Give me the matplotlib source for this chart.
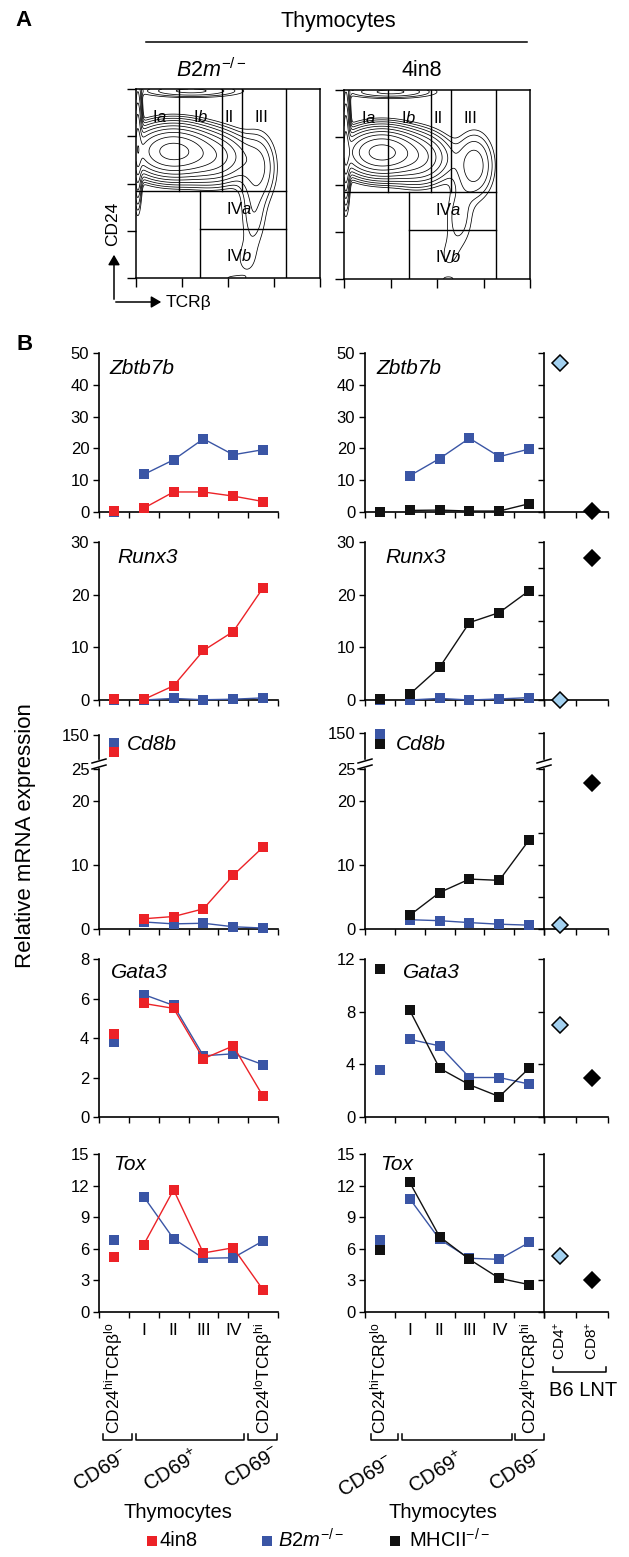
import numpy as np
import matplotlib
matplotlib.use('Agg')
import matplotlib.pyplot as plt
from matplotlib.lines import Line2D
from matplotlib.transforms import blended_transform_factory

plt.rcParams['font.family'] = ['Liberation Sans', 'DejaVu Sans']
plt.rcParams['mathtext.fontset'] = 'custom'
plt.rcParams['mathtext.rm'] = 'Liberation Sans'
plt.rcParams['mathtext.it'] = 'Liberation Sans:italic'
plt.rcParams['mathtext.bf'] = 'Liberation Sans:bold'

W, H = 629, 1557

RED = '#ec2227'
BLUE = '#3a55a5'
BLACK = '#111111'
LIGHT = '#a3d1f0'

# categories: CD24hiTCRblo, I, II, III, IV, CD24loTCRbhi
X = np.arange(6)
CAT_LABELS = [r'CD24$^{\rm hi}$TCRβ$^{\rm lo}$', 'I', 'II', 'III', 'IV',
              r'CD24$^{\rm lo}$TCRβ$^{\rm hi}$']
CAT_ROT = [90, 0, 0, 0, 0, 90]
LNT_LABELS = [r'CD4$^{+}$', r'CD8$^{+}$']
LEGEND_LABELS = ['4in8', r'$\mathit{B2m}^{\mathit{-/-}}$', r'MHCII$^{-/-}$']

# left column: 4in8 vs B2m-/-
zbtb_4in8 = [0.3, 1.2, 6.3, 6.3, 5.0, 3.3]
zbtb_b2m_l = [0.0, 11.8, 16.4, 23.0, 18.0, 19.6]
runx_4in8 = [0.1, 0.1, 2.7, 9.4, 13.0, 21.3]
runx_b2m_l = [0.0, 0.0, 0.3, 0.05, 0.15, 0.4]
cd8b_4in8 = [115, 1.6, 1.95, 3.15, 8.4, 12.8]
cd8b_b2m_l = [133, 1.1, 0.8, 0.9, 0.35, 0.15]
gata_4in8 = [4.2, 5.75, 5.5, 2.95, 3.6, 1.05]
gata_b2m_l = [3.8, 6.2, 5.65, 3.1, 3.2, 2.65]
tox_4in8 = [5.2, 6.4, 11.6, 5.6, 6.1, 2.1]
tox_b2m_l = [6.85, 10.95, 6.95, 5.1, 5.15, 6.75]

# right column: B2m-/- vs MHCII-/-
zbtb_b2m_r = [0.0, 11.4, 16.8, 23.2, 17.4, 19.8]
zbtb_mhc = [0.1, 0.5, 0.6, 0.3, 0.3, 2.6]
runx_b2m_r = [0.0, 0.0, 0.3, 0.0, 0.2, 0.45]
runx_mhc = [0.2, 1.1, 6.2, 14.7, 16.6, 20.75]
cd8b_b2m_r = [148, 1.45, 1.3, 1.0, 0.75, 0.6]
cd8b_mhc = [129, 2.15, 5.7, 7.8, 7.6, 13.9]
gata_b2m_r = [3.6, 5.9, 5.4, 3.0, 3.0, 2.5]
gata_mhc = [11.25, 8.1, 3.7, 2.45, 1.55, 3.7]
tox_b2m_r = [6.8, 10.75, 6.9, 5.1, 5.0, 6.6]
tox_mhc = [5.85, 12.3, 7.15, 5.0, 3.2, 2.6]

# B6 lymph node T cells: CD4+, CD8+
lnt_zbtb = [46.7, 0.2]
lnt_runx = [0.0, 26.9]
lnt_cd8b = [0.55, 22.8]
lnt_gata = [7.0, 3.0]
lnt_tox = [5.3, 3.0]

# contour model of the flow plots: (x, y, sx, sy, weight) in axis fractions
b2m_blobs = [(0.20, 0.67, 0.11, 0.065, 1.00), (0.42, 0.64, 0.10, 0.07, 0.22),
             (0.66, 0.58, 0.06, 0.11, 0.05), (0.64, 0.33, 0.045, 0.11, 0.022),
             (0.60, 0.10, 0.05, 0.08, 0.012), (0.30, 0.99, 0.16, 0.02, 0.05),
             (0.01, 0.72, 0.012, 0.15, 0.30), (0.52, 0.0, 0.06, 0.015, 0.01)]
fourin8_blobs = [(0.20, 0.67, 0.10, 0.06, 1.00), (0.40, 0.64, 0.09, 0.07, 0.18),
                 (0.70, 0.60, 0.06, 0.10, 0.06), (0.62, 0.33, 0.05, 0.11, 0.022),
                 (0.56, 0.12, 0.05, 0.08, 0.010), (0.25, 0.99, 0.14, 0.02, 0.05),
                 (0.01, 0.72, 0.012, 0.15, 0.30), (0.56, 0.0, 0.05, 0.015, 0.008)]

fig = plt.figure(figsize=(W / 100, H / 100), dpi=100)


def fx(x):
    return x / W


def fy(y):
    return 1 - y / H


def add_ax(x0, x1, y0, y1):
    return fig.add_axes([x0 / W, 1 - y1 / H, (x1 - x0) / W, (y1 - y0) / H])


def pline(xs, ys, lw=1.0):
    fig.add_artist(Line2D([fx(v) for v in xs], [fy(v) for v in ys],
                          transform=fig.transFigure, color='k', lw=lw))


# ---------------- panel A
def flow_panel(x0, x1, y0, y1, blobs):
    ax = add_ax(x0, x1, y0, y1)
    g = np.linspace(0, 1, 300)
    xx, yy = np.meshgrid(g, g)
    z = np.zeros_like(xx)
    for cx, cy, sx, sy, w in blobs:
        z += w * np.exp(-0.5 * (((xx - cx) / sx) ** 2 + ((yy - cy) / sy) ** 2))
    ax.contour(xx, yy, z, levels=z.max() * np.geomspace(0.01, 0.8, 10),
               colors='k', linewidths=0.55)
    ax.set_xlim(0, 1)
    ax.set_ylim(0, 1)
    q = [0, 0.25, 0.5, 0.75, 1]
    ax.set_xticks(q)
    ax.set_yticks(q)
    ax.tick_params(direction='out', length=6.5, width=1.0,
                   labelbottom=False, labelleft=False)
    for s in ax.spines.values():
        s.set_linewidth(1.1)
    kw = dict(color='k', lw=1.0)
    ax.plot([0, 0.815], [0.46, 0.46], **kw)
    for xv in [0.234, 0.467, 0.576]:
        ax.plot([xv, xv], [0.46, 1], **kw)
    ax.plot([0.815, 0.815], [0, 1], **kw)
    ax.plot([0.348, 0.348], [0, 0.46], **kw)
    ax.plot([0.348, 0.815], [0.26, 0.26], **kw)
    for txt, px, py in [(r'I$\mathit{a}$', 0.13, 0.85), (r'I$\mathit{b}$', 0.35, 0.85),
                        ('II', 0.505, 0.85), ('III', 0.68, 0.85),
                        (r'IV$\mathit{a}$', 0.56, 0.365), (r'IV$\mathit{b}$', 0.56, 0.116)]:
        ax.text(px, py, txt, ha='center', va='center', fontsize=12)
    return ax


fig.text(fx(24), fy(21), 'A', fontsize=16, fontweight='bold', ha='center', va='center')
fig.text(fx(338), fy(22), 'Thymocytes', fontsize=15.5, ha='center', va='center')
pline([146, 527], [42, 42], lw=1.1)
fig.text(fx(211), fy(70), r'$\mathit{B2m}^{\mathit{-/-}}$', fontsize=15.5, ha='center', va='center')
fig.text(fx(422), fy(70), '4in8', fontsize=15.5, ha='center', va='center')
flow_panel(136, 320, 89, 278, b2m_blobs)
flow_panel(344, 530, 90, 279, fourin8_blobs)

fig.add_artist(matplotlib.patches.FancyArrowPatch(
    (fx(114), fy(302)), (fx(114), fy(252)), transform=fig.transFigure,
    arrowstyle='-|>,head_length=6,head_width=3.5', color='k', lw=1.1))
fig.add_artist(matplotlib.patches.FancyArrowPatch(
    (fx(113), fy(302)), (fx(164), fy(302)), transform=fig.transFigure,
    arrowstyle='-|>,head_length=6,head_width=3.5', color='k', lw=1.1))
fig.text(fx(113), fy(224), 'CD24', rotation=90, fontsize=12.5, ha='center', va='center')
fig.text(fx(166), fy(302), 'TCRβ', fontsize=12.5, ha='left', va='center')

# ---------------- panel B
fig.text(fx(25), fy(345), 'B', fontsize=16, fontweight='bold', ha='center', va='center')
fig.text(fx(26), fy(836), 'Relative mRNA expression', rotation=90, fontsize=16,
         ha='center', va='center')

LX = (99, 278)
RX = (365, 544)
NX = (544, 608)


def style(ax, ylim, yticks, xlim, xticks, labels=True, bottom=True):
    ax.set_xlim(*xlim)
    ax.set_ylim(*ylim)
    ax.patch.set_alpha(0)
    ax.spines['top'].set_visible(False)
    ax.spines['right'].set_visible(False)
    ax.spines['left'].set_linewidth(1.2)
    ax.spines['bottom'].set_linewidth(1.2)
    ax.spines['bottom'].set_visible(bottom)
    ax.set_yticks(yticks)
    if bottom:
        ax.set_xticks(xticks)
        ax.set_xticklabels([])
    else:
        ax.set_xticks([])
    ax.tick_params(which='major', direction='out', length=4.5, width=1.0,
                   pad=2.5, labelsize=12, labelleft=labels)
    ax.tick_params(which='minor', length=0)


def series(ax, vals, color, z, skip_first=False):
    kw = dict(color=color, marker='s', ms=6.8, mew=0, lw=1.0, zorder=z, clip_on=False)
    ax.plot(X[1:], vals[1:], **kw)
    if not skip_first:
        ax.plot(X[:1], vals[:1], ls='none', **kw)


def lnt(ax, vals):
    ax.plot([0], vals[:1], marker='D', ms=8, mfc=LIGHT, mec='k', mew=1.1,
            ls='none', clip_on=False, zorder=5)
    ax.plot([1], vals[1:], marker='D', ms=8, mfc='k', mec='k', mew=1.1,
            ls='none', clip_on=False, zorder=5)


def gene_label(x, y, name):
    fig.text(fx(x), fy(y), name, fontsize=15, style='italic', ha='left', va='center')


TX = np.arange(-0.5, 6, 1)
NT = [-0.5, 0.5, 1.5]

rows = [
    ('Zbtb7b', 353, 512, (0, 50), np.arange(0, 51, 10), (0, 50), np.arange(0, 51, 10),
     np.arange(0, 51, 10), zbtb_4in8, zbtb_b2m_l, zbtb_b2m_r, zbtb_mhc, lnt_zbtb,
     (109, 369), (376, 368)),
    ('Runx3', 542, 700, (0, 30), np.arange(0, 31, 10), (0, 30), np.arange(0, 31, 10),
     np.arange(0, 31, 5), runx_4in8, runx_b2m_l, runx_b2m_r, runx_mhc, lnt_runx,
     (117, 557), (385, 557)),
    ('Cd8b', 769, 929, (0, 25), [0, 10, 20, 25], (0, 25), [0, 10, 20, 25],
     np.arange(0, 26, 5), cd8b_4in8, cd8b_b2m_l, cd8b_b2m_r, cd8b_mhc, lnt_cd8b,
     (127, 744), (396, 744)),
    ('Gata3', 959, 1117, (0, 8), np.arange(0, 9, 2), (0, 12), np.arange(0, 13, 4),
     np.arange(0, 13, 4), gata_4in8, gata_b2m_l, gata_b2m_r, gata_mhc, lnt_gata,
     (111, 972), (403, 972)),
    ('Tox', 1154, 1312, (0, 15), np.arange(0, 16, 3), (0, 15), np.arange(0, 16, 3),
     np.arange(0, 16, 3), tox_4in8, tox_b2m_l, tox_b2m_r, tox_mhc, lnt_tox,
     (113, 1165), (380, 1165)),
]

for (gene, top, bot, lyl, lyt, ryl, ryt, nyt, red_v, blue_l, blue_r, blk_v, lnt_v,
     lpos, rpos) in rows:
    is_cd8 = gene == 'Cd8b'
    axl = add_ax(LX[0], LX[1], top, bot)
    style(axl, lyl, lyt, (-0.5, 5.5), TX)
    series(axl, blue_l, BLUE, 3, skip_first=is_cd8)
    series(axl, red_v, RED, 4, skip_first=is_cd8)

    axr = add_ax(RX[0], RX[1], top, bot)
    style(axr, ryl, ryt, (-0.5, 5.5), TX)
    series(axr, blue_r, BLUE, 3, skip_first=is_cd8)
    series(axr, blk_v, BLACK, 4, skip_first=is_cd8)

    axn = add_ax(NX[0], NX[1], top, bot)
    style(axn, ryl, nyt, (-0.5, 1.5), NT, labels=False)
    lnt(axn, lnt_v)

    gene_label(lpos[0], lpos[1], gene)
    gene_label(rpos[0], rpos[1], gene)

    if is_cd8:
        # broken axis: upper segment holds the CD24hi TCRblo values
        ul = add_ax(LX[0], LX[1], 735, 759)
        style(ul, (100, 150), [150], (-0.5, 5.5), TX, bottom=False)
        ul.plot([0], blue_l[:1], color=BLUE, marker='s', ms=6.8, mew=0, ls='none', clip_on=False)
        ul.plot([0], red_v[:1], color=RED, marker='s', ms=6.8, mew=0, ls='none', clip_on=False)
        ur = add_ax(RX[0], RX[1], 733, 759)
        style(ur, (100, 150), [150], (-0.5, 5.5), TX, bottom=False)
        ur.plot([0], blue_r[:1], color=BLUE, marker='s', ms=6.8, mew=0, ls='none', clip_on=False)
        ur.plot([0], blk_v[:1], color=BLACK, marker='s', ms=6.8, mew=0, ls='none', clip_on=False)
        un = add_ax(NX[0], NX[1], 733, 759)
        style(un, (100, 150), [150], (-0.5, 1.5), NT, labels=False, bottom=False)
        for xb in (LX[0], RX[0], NX[0]):
            for yb in (761, 767):
                pline([xb - 7, xb + 7], [yb + 2, yb - 2], lw=1.1)

    if gene == 'Tox':
        for ax in (axl, axr):
            ax.set_xticks(X, labels=CAT_LABELS, minor=True)
            for lbl, rot in zip(ax.get_xticklabels(minor=True), CAT_ROT):
                lbl.set_rotation(rot)
            ax.tick_params(which='minor', pad=8, labelsize=12.5)
        axn.set_xticks([0, 1], labels=LNT_LABELS, minor=True)
        for lbl in axn.get_xticklabels(minor=True):
            lbl.set_rotation(90)
        axn.tick_params(which='minor', pad=7, labelsize=11)
        tox_axes = (axl, axr, axn)


def bracket(ax, xa, xb, y, rise=6):
    tr = blended_transform_factory(ax.transData, fig.transFigure)
    fig.add_artist(Line2D([xa, xa, xb, xb], [fy(y - rise), fy(y), fy(y), fy(y - rise)],
                          transform=tr, color='k', lw=1.1))


axl, axr, axn = tox_axes
for xa, xb in [(-0.35, 0.6), (0.75, 4.35), (4.5, 5.45)]:
    bracket(axl, xa, xb, 1440)
for xa, xb in [(-0.3, 0.6), (0.73, 4.43), (4.53, 5.5)]:
    bracket(axr, xa, xb, 1440)
bracket(axn, -0.22, 1.45, 1372, rise=5)
fig.text(fx(583), fy(1390), 'B6 LNT', fontsize=14.5, ha='center', va='center')

for xc, yc, txt in [(101, 1470, r'CD69$^{-}$'), (172, 1471, r'CD69$^{+}$'),
                    (252, 1467, r'CD69$^{-}$'), (366, 1476, r'CD69$^{-}$'),
                    (437, 1473, r'CD69$^{+}$'), (517, 1470, r'CD69$^{-}$')]:
    fig.text(fx(xc), fy(yc), txt, rotation=32, rotation_mode='anchor',
             fontsize=14.5, ha='center', va='center')

fig.text(fx(178), fy(1512), 'Thymocytes', fontsize=14.5, ha='center', va='center')
fig.text(fx(443), fy(1512), 'Thymocytes', fontsize=14.5, ha='center', va='center')

# legend, laid out by hand to match the original spacing
for (mx, tx), color, label in zip([(152, 160), (267, 278), (395, 409)],
                                  (RED, BLUE, BLACK), LEGEND_LABELS):
    fig.add_artist(Line2D([fx(mx)], [fy(1541)], transform=fig.transFigure,
                          marker='s', ms=7, mew=0, color=color, ls='none'))
    fig.text(fx(tx), fy(1540), label, fontsize=14.5, ha='left', va='center')

fig.savefig('out.png', dpi=100)
